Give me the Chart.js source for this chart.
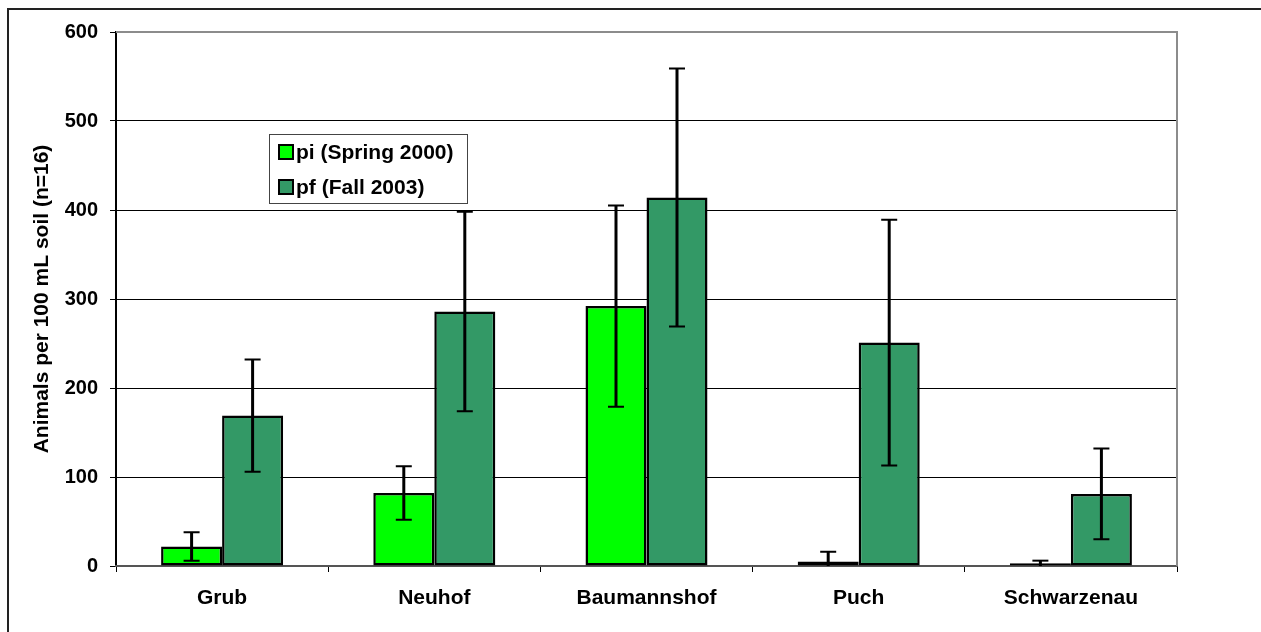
<!DOCTYPE html>
<html>
<head>
<meta charset="utf-8">
<script src="https://cdn.jsdelivr.net/npm/chart.js@4/dist/chart.umd.min.js"></script>
<style>
    body { margin: 0; background: #fff; overflow: hidden; }
    #frame { position: absolute; left: 7px; top: 8px; width: 1400px; height: 800px;
             border-left: 2px solid #222; border-top: 2px solid #222; }
    #chartSoil { position: absolute; left: 0; top: 0; }
</style>
</head>
<body>
<div id="frame"></div>
<canvas id="chartSoil" width="1261" height="632"></canvas>
<script>
// datos
const sitios = ["Grub", "Neuhof", "Baumannshof", "Puch", "Schwarzenau"];
const piLabel = "pi (Spring 2000)";
const pfLabel = "pf (Fall 2003)";
const piValores = [22, 82, 292, 5, 3];
const piError = [16, 30, 113, 11, 3];
const pfValores = [169, 286, 414, 251, 81];
const pfError = [63, 112, 145, 138, 51];
const yTicks = [0, 100, 200, 300, 400, 500, 600];

const fuente = "'Liberation Sans', Arial, sans-serif";

// barras de error dibujadas con las escalas del grafico
const errorBars = {
    id: "errorBars",
    afterDatasetsDraw(chart) {
        const ctx = chart.ctx;
        const y = chart.scales.y;
        chart.data.datasets.forEach((ds, i) => {
            const meta = chart.getDatasetMeta(i);
            meta.data.forEach((bar, j) => {
                const v = ds.data[j];
                const e = ds.errores[j];
                const yTop = y.getPixelForValue(v + e);
                const low = v - e;
                const yBot = y.getPixelForValue(Math.max(low, y.min));
                ctx.save();
                ctx.strokeStyle = "#000";
                ctx.lineWidth = 3;
                ctx.beginPath();
                ctx.moveTo(bar.x, yTop);
                ctx.lineTo(bar.x, yBot);
                ctx.stroke();
                ctx.lineWidth = 2;
                ctx.beginPath();
                ctx.moveTo(bar.x - 8, yTop);
                ctx.lineTo(bar.x + 8, yTop);
                if (low > y.min) {
                    ctx.moveTo(bar.x - 8, yBot);
                    ctx.lineTo(bar.x + 8, yBot);
                }
                ctx.stroke();
                ctx.restore();
            });
        });
    },
};

// borde gris del area y leyenda en recuadro
const marcoLeyenda = {
    id: "marcoLeyenda",
    beforeDatasetsDraw(chart) {
        const ctx = chart.ctx;
        const a = chart.chartArea;
        ctx.save();
        ctx.strokeStyle = "#8c8c8c";
        ctx.lineWidth = 2;
        ctx.beginPath();
        ctx.moveTo(a.left, a.top);
        ctx.lineTo(a.right, a.top);
        ctx.lineTo(a.right, a.bottom);
        ctx.stroke();
        ctx.restore();
    },
    afterDraw(chart) {
        const ctx = chart.ctx;
        const a = chart.chartArea;
        const x0 = a.left + 153;
        const y0 = a.top + 102;
        ctx.save();
        ctx.fillStyle = "#fff";
        ctx.fillRect(x0, y0, 198, 69);
        ctx.strokeStyle = "#444";
        ctx.lineWidth = 1;
        ctx.strokeRect(x0 + 0.5, y0 + 0.5, 198, 69);
        ctx.font = "bold 21px " + fuente;
        ctx.textBaseline = "middle";
        chart.data.datasets.forEach((ds, i) => {
            const cy = y0 + 18 + i * 35;
            ctx.fillStyle = ds.backgroundColor;
            ctx.fillRect(x0 + 10, cy - 7, 14, 14);
            ctx.strokeStyle = "#000";
            ctx.lineWidth = 2;
            ctx.strokeRect(x0 + 10, cy - 7, 14, 14);
            ctx.fillStyle = "#000";
            ctx.fillText(ds.label, x0 + 27, cy + 1);
        });
        ctx.restore();
    },
};

new Chart(document.getElementById("chartSoil"), {
    type: "bar",
    data: {
        labels: sitios,
        datasets: [
            {
                label: piLabel,
                data: piValores,
                errores: piError,
                backgroundColor: "#00ff00",
                borderColor: "#000",
                borderWidth: 2.5,
                borderSkipped: false,
            },
            {
                label: pfLabel,
                data: pfValores,
                errores: pfError,
                backgroundColor: "#339966",
                borderColor: "#000",
                borderWidth: 2.5,
                borderSkipped: false,
            },
        ],
    },
    options: {
        responsive: false,
        animation: false,
        events: [],
        layout: {
            padding: { top: 32, right: 84, left: 0, bottom: 0 },
        },
        datasets: {
            bar: {
                categoryPercentage: 0.575,
                barPercentage: 1.0,
            },
        },
        scales: {
            y: {
                min: 0,
                max: 600,
                afterFit: (scale) => { scale.width = 116; },
                afterBuildTicks: (scale) => { scale.ticks = yTicks.map((v) => ({ value: v })); },
                title: {
                    display: true,
                    text: "Animals per 100 mL soil (n=16)",
                    color: "#000",
                    font: { family: fuente, size: 21, weight: "bold" },
                    padding: { top: 30, bottom: 0 },
                },
                ticks: {
                    color: "#000",
                    padding: 12,
                    font: { family: fuente, size: 20, weight: "bold" },
                },
                grid: {
                    color: (c) => (c.tick && (c.tick.value === 600 || c.tick.value === 0)) ? "rgba(0,0,0,0)" : "#000",
                    lineWidth: 1,
                    tickColor: "#000",
                    tickLength: 6,
                    tickWidth: 1,
                },
                border: { color: "#000", width: 2 },
            },
            x: {
                afterFit: (scale) => { scale.height = 66; },
                ticks: {
                    color: "#000",
                    padding: 14,
                    font: { family: fuente, size: 21, weight: "bold" },
                },
                grid: {
                    offset: true,
                    drawOnChartArea: false,
                    tickColor: "#000",
                    tickLength: 6,
                    tickWidth: 1,
                },
                border: { color: "#555", width: 2 },
            },
        },
        plugins: {
            legend: { display: false },
            tooltip: { enabled: false },
        },
    },
    plugins: [errorBars, marcoLeyenda],
});
</script>
</body>
</html>
